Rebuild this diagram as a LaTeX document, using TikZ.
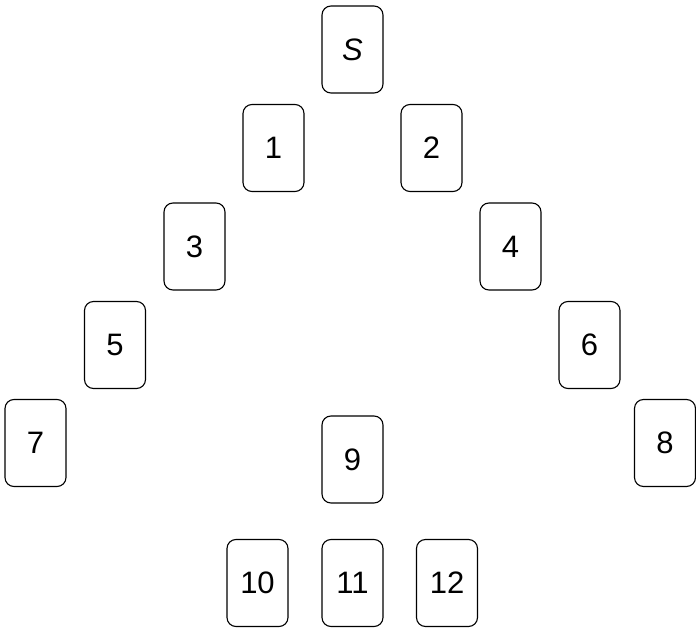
\documentclass[tikz,border=0pt]{standalone}
\usepackage{fontspec}
\setmainfont{Liberation Sans}
\usetikzlibrary{positioning}

\begin{document}
\begin{tikzpicture}[
    x=1pt, y=-1pt,
    card/.style={draw, rectangle, rounded corners=9pt, line width=1.1pt, minimum width=61pt, minimum height=87pt, inner sep=0pt, align=center, font=\fontsize{31}{36}\selectfont}
]
\useasboundingbox (0,0) rectangle (696,628);
% Nodes
\node[card] (s) at (352.5,49.5) {\itshape S};
\node[card] (c1) at (273.5,148) {1};
\node[card] (c2) at (431.5,148) {2};
\node[card] (c3) at (194.5,246.5) {3};
\node[card] (c4) at (510.5,246.5) {4};
\node[card] (c5) at (115,345) {5};
\node[card] (c6) at (589.5,345) {6};
\node[card] (c7) at (35.5,443) {7};
\node[card] (c8) at (665,443) {8};
\node[card] (c9) at (352.5,459.5) {9};
\node[card] (c10) at (257.5,583) {10};
\node[card] (c11) at (352.5,583) {11};
\node[card] (c12) at (447,583) {12};
\end{tikzpicture}
\end{document}
